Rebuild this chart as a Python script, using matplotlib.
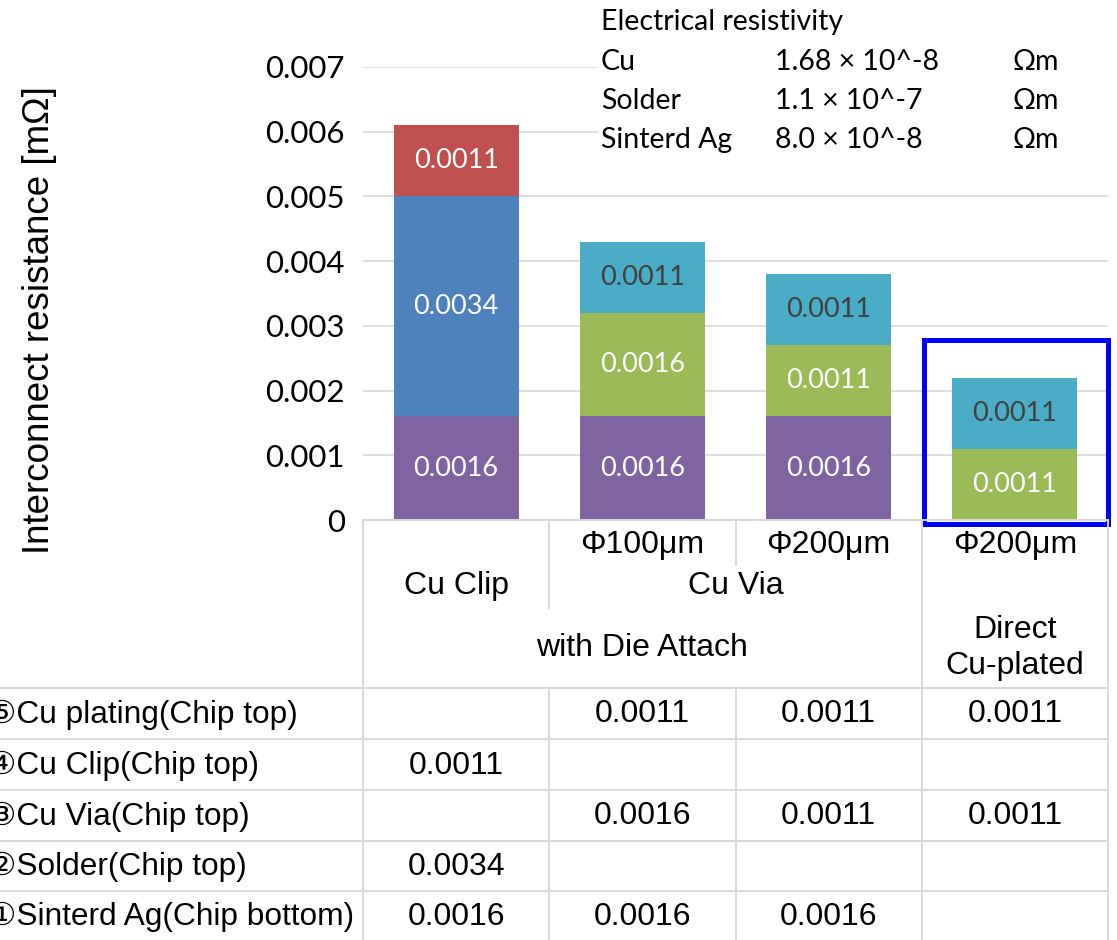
import matplotlib.pyplot as plt
import numpy as np
from matplotlib.patches import Rectangle
from matplotlib.lines import Line2D
from matplotlib.transforms import blended_transform_factory

plt.rcParams['font.family'] = ['Liberation Sans', 'DejaVu Sans']
CAL = ['Lato', 'DejaVu Sans']

W, H = 1117, 940

# data (bottom of stack first)
sinterd_ag = [0.0016, 0.0016, 0.0016, np.nan]
solder = [0.0034, np.nan, np.nan, np.nan]
cu_via = [np.nan, 0.0016, 0.0011, 0.0011]
cu_clip = [0.0011, np.nan, np.nan, np.nan]
cu_plating = [np.nan, 0.0011, 0.0011, 0.0011]

series = [sinterd_ag, solder, cu_via, cu_clip, cu_plating]
series_names = ["①Sinterd Ag(Chip bottom)", "②Solder(Chip top)", "③Cu Via(Chip top)",
                "④Cu Clip(Chip top)", "⑤Cu plating(Chip top)"]
colors = ["#8064A2", "#4F81BD", "#9BBB59", "#C0504D", "#4BACC6"]
label_colors = ["white", "white", "white", "white", "#404040"]

yticks = [0, 0.001, 0.002, 0.003, 0.004, 0.005, 0.006, 0.007]
ytick_labels = ["0", "0.001", "0.002", "0.003", "0.004", "0.005", "0.006", "0.007"]

diameters = ["", "Φ100μm", "Φ200μm", "Φ200μm"]
rho_title = "Electrical resistivity"
rho_materials = ["Cu", "Solder", "Sinterd Ag"]
rho_values = ["1.68 × 10^-8", "1.1 × 10^-7", "8.0 × 10^-8"]
rho_unit = "Ωm"

fig = plt.figure(figsize=(W / 100, H / 100), dpi=100)
ax = fig.add_axes([363 / W, 1 - 520 / H, (1108 - 363) / W, (520 - 67) / H])

x = np.arange(len(diameters))
bottom = np.zeros(len(x))
for vals, c, lc in zip(series, colors, label_colors):
    v = np.nan_to_num(np.array(vals))
    ax.bar(x, v, 0.67, bottom=bottom, color=c, zorder=2)
    for xi, b, val in zip(x, bottom, vals):
        if not np.isnan(val):
            ax.text(xi, b + val / 2, f"{val:.4f}", ha='center', va='center',
                    color=lc, fontsize=19.5, family=CAL, zorder=3)
    bottom += v

ax.set_xlim(-0.5, 3.5)
ax.set_ylim(0, 0.007)
ax.set_yticks(yticks)
ax.set_yticklabels(ytick_labels, family=CAL, fontsize=22.5)
ax.set_xticks([])
ax.tick_params(axis='y', length=0, pad=13)
for s in ax.spines.values():
    s.set_visible(False)
ax.grid(axis='y', color='#D9D9D9', lw=1.2, zorder=0)
ax.set_axisbelow(True)

# highlight box around the direct Cu-plated bar
ax.add_patch(Rectangle((2.51, -0.00006), 0.99, 0.00284, fill=False,
                       edgecolor='#0000FF', lw=3.6, clip_on=False, zorder=5))

fig.text(40 / W, 1 - 320 / H, "Interconnect resistance [mΩ]", rotation=90,
         ha='center', va='center', fontsize=26.5)

# table below the chart
tx = blended_transform_factory(ax.transData, fig.transFigure)
fy = lambda p: 1 - p / H
grid_kw = dict(color='#D9D9D9', lw=1.4)

vlines = [(-0.5, 520, 940), (0.5, 520, 608), (0.5, 688, 940), (1.5, 520, 565),
          (1.5, 688, 940), (2.5, 520, 940), (3.5, 520, 940)]
for xv, y0, y1 in vlines:
    fig.add_artist(Line2D([xv, xv], [fy(y0), fy(y1)], transform=tx, **grid_kw))

row_y = [688, 739, 790, 841, 891]
x_right = ax.get_position().x1
for yv in row_y:
    fig.add_artist(Line2D([0, x_right], [fy(yv), fy(yv)], transform=fig.transFigure, **grid_kw))
fig.add_artist(Line2D([-0.5, 3.5], [fy(520), fy(520)], transform=tx, **grid_kw))

tkw = dict(fontsize=23, ha='center', va='center', transform=tx)
for xi, d in zip(x, diameters):
    fig.text(xi, fy(545), d, **tkw)
fig.text(0, fy(586), "Cu Clip", **tkw)
fig.text(1.5, fy(586), "Cu Via", **tkw)
fig.text(1, fy(648), "with Die Attach", **tkw)
fig.text(3, fy(630), "Direct", **tkw)
fig.text(3, fy(666), "Cu-plated", **tkw)

for i, (name, vals) in enumerate(zip(series_names[::-1], series[::-1])):
    yc = fy((row_y[i] + (row_y[i + 1] if i + 1 < len(row_y) else 941)) / 2 + 1)
    fig.text(-12 / W, yc, name, fontsize=22.8, ha='left', va='center')
    for xi, val in zip(x, vals):
        if not np.isnan(val):
            fig.text(xi, yc, f"{val:.4f}", **tkw)

# resistivity note
fig.add_artist(Rectangle((598 / W, fy(165)), 1 - 598 / W, 165 / H, facecolor='white',
                         edgecolor='none', transform=fig.transFigure, zorder=1))
fs = 20.5
fig.text(601 / W, fy(22), rho_title, family=CAL, fontsize=fs, va='center', ha='left')
for i, (m, v) in enumerate(zip(rho_materials, rho_values)):
    yc = fy(62 + i * 39)
    fig.text(601 / W, yc, m, family=CAL, fontsize=fs, va='center', ha='left')
    fig.text(775 / W, yc, v, family=CAL, fontsize=fs, va='center', ha='left')
    fig.text(1012 / W, yc, rho_unit, family=CAL, fontsize=fs, va='center', ha='left')

fig.savefig("out.png", dpi=100)
